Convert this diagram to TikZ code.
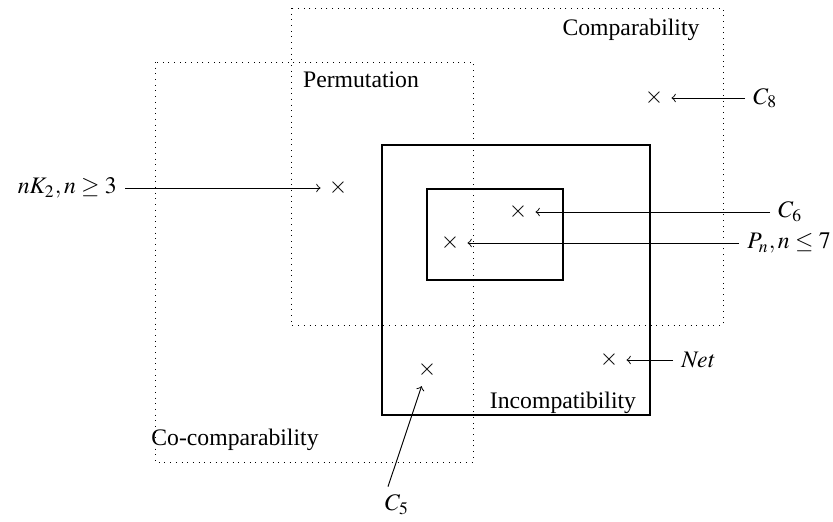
\documentclass[tikz,border=0pt]{standalone}
\usepackage{mathptmx}
\usepackage{fontspec}
\setmainfont{Liberation Serif}
\begin{document}
\begin{tikzpicture}[x=0.422pt,y=-0.422pt,
  region/.style={draw,dotted},
  classbox/.style={draw,line width=0.8pt},
  member/.style={inner sep=3.3pt},
  lbl/.style={inner sep=3.3pt},
  pointer/.style={->,line width=0.4pt},
  every node/.style={font=\fontsize{10pt}{12pt}\selectfont}]
\useasboundingbox (0,0) rectangle (833,521);

% graph classes
\draw[region] (291,8) rectangle (723,325);
\draw[region] (155,62) rectangle (473,462);
\draw[classbox] (382,145) rectangle (650,415);
\draw[classbox] (427,189) rectangle (563,280);

% class names
\node (ncomp) at (631,30) {Comparability};
\node (nperm) at (361,80) {Permutation};
\node (nincomp) at (563,403) {Incompatibility};
\node (ncocomp) at (235,440) {Co-comparability};

% example graphs
\node[member] (x8) at (654,98) {$\times$};
\node[member] (xk) at (338,188) {$\times$};
\node[member] (x6) at (518,212) {$\times$};
\node[member] (xp) at (450,243) {$\times$};
\node[member] (xnet) at (609,360) {$\times$};
\node[member] (x5) at (427,370) {$\times$};

% their names
\node[lbl,anchor=west] (l8) at (745,98) {$C_8$};
\node[lbl,anchor=east] (lk) at (125,188) {$nK_2, n \geq 3$};
\node[lbl,anchor=west] (l6) at (770,212) {$C_6$};
\node[lbl,anchor=west] (lp) at (739,243) {$P_n, n \leq 7$};
\node[lbl,anchor=west] (lnet) at (673,360) {$\mathit{Net}$};
\node[lbl] (l5) at (397,505) {$C_5$};

% pointers
\draw[pointer] (l8.west |- x8) -- (x8);
\draw[pointer] (lk.east |- xk) -- (xk);
\draw[pointer] (l6.west |- x6) -- (x6);
\draw[pointer] (lp.west |- xp) -- (xp);
\draw[pointer] (lnet.west |- xnet) -- (xnet);
\draw[pointer] ([xshift=-3.8pt]l5.north) -- (x5);
\end{tikzpicture}
\end{document}
